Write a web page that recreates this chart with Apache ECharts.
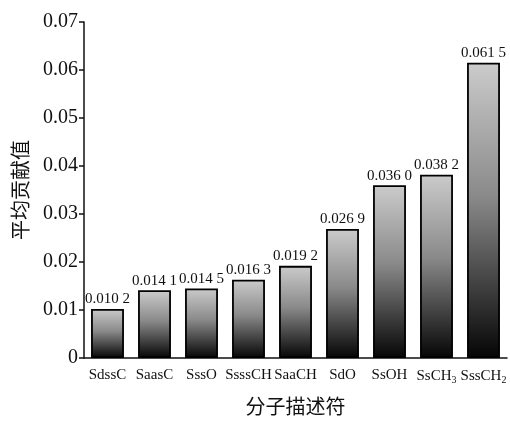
<!DOCTYPE html>
<html><head><meta charset="utf-8">
<script src="https://cdn.jsdelivr.net/npm/echarts@6/dist/echarts.min.js"></script>
<style>html,body{margin:0;padding:0;background:#fff}#c{width:510px;height:421px}</style>
</head><body><div id="c"></div>
<script>
const categories = ['SdssC','SaasC','SssO','SsssCH','SaaCH','SdO','SsOH','SsCH3','SssCH2'];
const categoryLabels = ['SdssC','SaasC','SssO','SsssCH','SaaCH','SdO','SsOH','SsCH{sub|3}','SssCH{sub|2}'];
const values = [0.0102,0.0141,0.0145,0.0163,0.0192,0.0269,0.0360,0.0382,0.0615];
const valueLabels = ['0.010 2','0.014 1','0.014 5','0.016 3','0.019 2','0.026 9','0.036 0','0.038 2','0.061 5'];
const yTicks = [0,0.01,0.02,0.03,0.04,0.05,0.06,0.07];
const font = '"Liberation Serif","DejaVu Serif",serif';
const cjk = '"Noto Sans CJK SC",sans-serif';
const chart = echarts.init(document.getElementById('c'));
chart.setOption({
  animation:false,
  grid:{left:84,right:3,top:22,bottom:55},
  xAxis:{type:'category',data:categories,
    axisLine:{lineStyle:{color:'#111',width:1.5}},
    axisTick:{show:false},
    axisLabel:{interval:0,color:'#111',fontFamily:font,fontSize:15,margin:10,
      formatter:(v,i)=>categoryLabels[i],
      rich:{sub:{fontSize:10,verticalAlign:'bottom',padding:[7,0,0,0],fontFamily:font,color:'#111'}}},
    name:'分子描述符',nameLocation:'middle',nameGap:38,
    nameTextStyle:{fontFamily:cjk,fontSize:20,color:'#111'}},
  yAxis:{type:'value',min:0,max:0.07,interval:0.01,
    axisLine:{show:true,lineStyle:{color:'#111',width:1.5}},
    axisTick:{show:true,length:5,lineStyle:{color:'#111',width:1.5}},
    splitLine:{show:false},
    axisLabel:{color:'#111',fontFamily:font,fontSize:20,margin:6,
      formatter:v=>{const t=yTicks.find(x=>Math.abs(x-v)<1e-9);return t===0?'0':t.toFixed(2);}},
    name:'平均贡献值',nameLocation:'middle',nameGap:54,nameRotate:90,
    nameTextStyle:{fontFamily:cjk,fontSize:20,color:'#111'}},
  series:[{type:'bar',data:values,barWidth:'70%',
    itemStyle:{borderColor:'#000',borderWidth:1.8,
      color:new echarts.graphic.LinearGradient(0,0,0,1,[{offset:0,color:'#cbcbcb'},{offset:0.45,color:'#8a8a8a'},{offset:1,color:'#050505'}])},
    label:{show:true,position:'top',distance:2,color:'#111',fontFamily:font,fontSize:15,
      formatter:p=>valueLabels[p.dataIndex]}}]
});
</script></body></html>
